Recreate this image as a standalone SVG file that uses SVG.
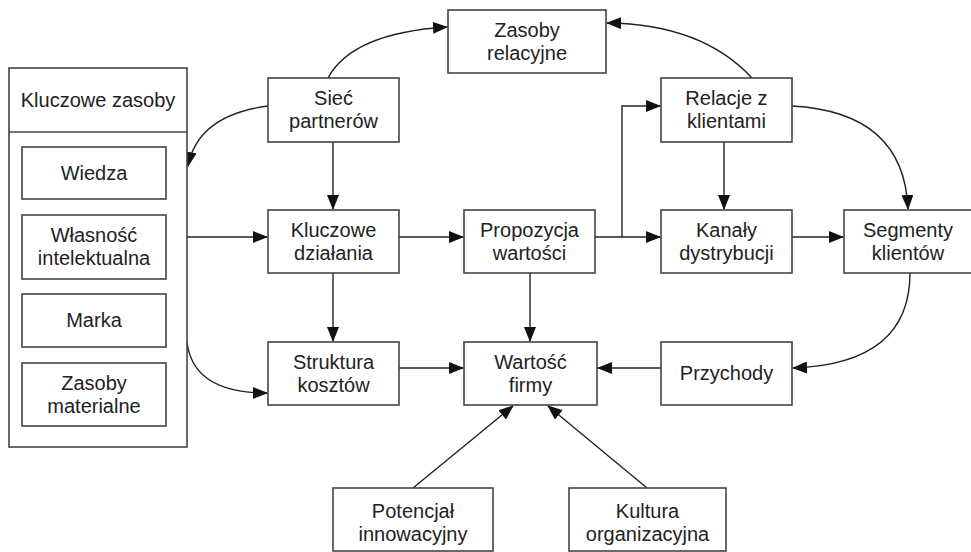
<svg xmlns="http://www.w3.org/2000/svg" width="971" height="552" viewBox="0 0 971 552">
<style>
.box{fill:#fff;stroke:#444;stroke-width:1.6}
.t{font-family:"Liberation Sans",Arial,sans-serif;font-size:20px;fill:#222;text-anchor:middle}
.c{fill:none;stroke:#222;stroke-width:1.4}
</style>
<defs>
<marker id="a" markerUnits="userSpaceOnUse" markerWidth="16" markerHeight="12" refX="14" refY="6" orient="auto">
<path d="M0,0 L15,6 L0,12 Z" fill="#111"/>
</marker>
</defs>
<rect width="971" height="552" fill="#fff"/>
<g id="connectors">
<path class="c" d="M328,78 Q352,33 447,27" marker-end="url(#a)"/>
<path class="c" d="M752,78 Q702,24 607,23" marker-end="url(#a)"/>
<path class="c" d="M268,106 Q198,115 188,166" marker-end="url(#a)"/>
<path class="c" d="M333,142 L333,209" marker-end="url(#a)"/>
<path class="c" d="M187,237 L267,237" marker-end="url(#a)"/>
<path class="c" d="M187,342 Q193,393 267,393" marker-end="url(#a)"/>
<path class="c" d="M333,273 L333,341" marker-end="url(#a)"/>
<path class="c" d="M399,237 L463,237" marker-end="url(#a)"/>
<path class="c" d="M595,237 L660,237" marker-end="url(#a)"/>
<path class="c" d="M622,237 L622,106 L660,106" marker-end="url(#a)"/>
<path class="c" d="M530,273 L530,341" marker-end="url(#a)"/>
<path class="c" d="M399,368 L463,368" marker-end="url(#a)"/>
<path class="c" d="M724,142 L724,209" marker-end="url(#a)"/>
<path class="c" d="M792,106 Q904,112 908,209" marker-end="url(#a)"/>
<path class="c" d="M792,237 L843,237" marker-end="url(#a)"/>
<path class="c" d="M910,273 Q910,364 793,368" marker-end="url(#a)"/>
<path class="c" d="M661,368 L598,368" marker-end="url(#a)"/>
<path class="c" d="M413,488 L513,406" marker-end="url(#a)"/>
<path class="c" d="M647,488 L548,406" marker-end="url(#a)"/>
</g>
<g id="kluczowe-zasoby">
<rect class="box" x="9" y="68" width="178" height="379"/>
<line x1="9" y1="132" x2="187" y2="132" stroke="#444" stroke-width="1.6"/>
<text class="t" x="98" y="107">Kluczowe zasoby</text>
</g>
<g id="wiedza"><rect class="box" x="22" y="147" width="144" height="52"/><text class="t" x="94" y="180">Wiedza</text></g>
<g id="wlasnosc"><rect class="box" x="22" y="215" width="144" height="64"/><text class="t" x="94" y="242">Własność</text><text class="t" x="94" y="265">intelektualna</text></g>
<g id="marka"><rect class="box" x="22" y="294" width="144" height="53"/><text class="t" x="94" y="327">Marka</text></g>
<g id="zasoby-materialne"><rect class="box" x="22" y="363" width="144" height="63"/><text class="t" x="94" y="390">Zasoby</text><text class="t" x="94" y="413">materialne</text></g>
<g id="siec"><rect class="box" x="268" y="78" width="131" height="64"/><text class="t" x="333.5" y="105">Sieć</text><text class="t" x="333.5" y="128">partnerów</text></g>
<g id="zasoby-relacyjne"><rect class="box" x="448" y="10" width="158" height="63"/><text class="t" x="527" y="37">Zasoby</text><text class="t" x="527" y="60">relacyjne</text></g>
<g id="relacje"><rect class="box" x="661" y="78" width="131" height="64"/><text class="t" x="726.5" y="105">Relacje z</text><text class="t" x="726.5" y="128">klientami</text></g>
<g id="kluczowe-dzialania"><rect class="box" x="268" y="210" width="131" height="63"/><text class="t" x="333.5" y="237">Kluczowe</text><text class="t" x="333.5" y="260">działania</text></g>
<g id="propozycja"><rect class="box" x="464" y="210" width="131" height="63"/><text class="t" x="529.5" y="237">Propozycja</text><text class="t" x="529.5" y="260">wartości</text></g>
<g id="kanaly"><rect class="box" x="661" y="210" width="131" height="63"/><text class="t" x="726.5" y="237">Kanały</text><text class="t" x="726.5" y="260">dystrybucji</text></g>
<g id="segmenty"><rect class="box" x="844" y="210" width="128" height="63"/><text class="t" x="908" y="237">Segmenty</text><text class="t" x="908" y="260">klientów</text></g>
<g id="struktura"><rect class="box" x="268" y="342" width="131" height="63"/><text class="t" x="333.5" y="369">Struktura</text><text class="t" x="333.5" y="392">kosztów</text></g>
<g id="wartosc-firmy"><rect class="box" x="464" y="342" width="133" height="63"/><text class="t" x="530.5" y="369">Wartość</text><text class="t" x="530.5" y="392">firmy</text></g>
<g id="przychody"><rect class="box" x="661" y="342" width="131" height="63"/><text class="t" x="726.5" y="380">Przychody</text></g>
<g id="potencjal"><rect class="box" x="333" y="488" width="160" height="63"/><text class="t" x="413" y="518">Potencjał</text><text class="t" x="413" y="541">innowacyjny</text></g>
<g id="kultura"><rect class="box" x="569" y="488" width="157" height="63"/><text class="t" x="647.5" y="518">Kultura</text><text class="t" x="647.5" y="541">organizacyjna</text></g>
</svg>
